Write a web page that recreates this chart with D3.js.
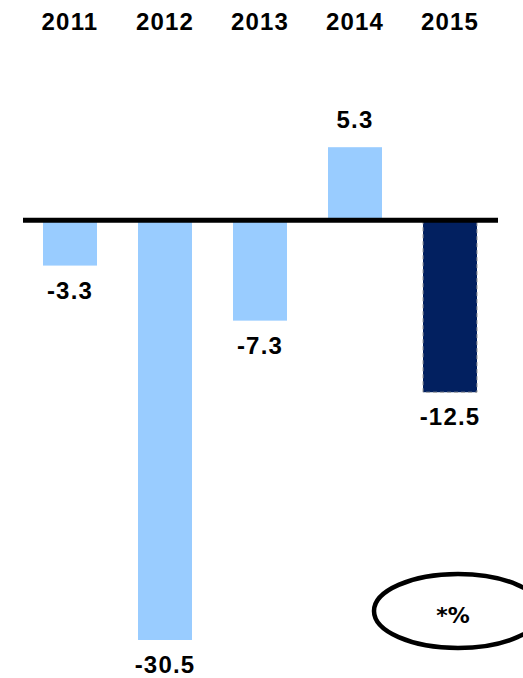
<!DOCTYPE html>
<html>
<head>
<meta charset="utf-8">
<script src="https://cdn.jsdelivr.net/npm/d3@7"></script>
<style>
  html, body { margin: 0; padding: 0; background: #fff; }
  svg { display: block; }
</style>
</head>
<body>
<div id="chart"></div>
<script>
const categories = ["2011", "2012", "2013", "2014", "2015"];
const values = [-3.3, -30.5, -7.3, 5.3, -12.5];
const valueLabels = ["-3.3", "-30.5", "-7.3", "5.3", "-12.5"];
const highlight = [false, false, false, false, true];
const noteText = "*%";

const W = 523, H = 678;
const svg = d3.select("#chart").append("svg").attr("width", W).attr("height", H);

const x = d3.scaleBand().domain(categories).range([23, 497]).paddingInner(0.4316).paddingOuter(0.2105);
// zero at ~221, ~13.75 px per unit
const y = d3.scaleLinear().domain([-30.5, 5.3]).range([640, 147.2]);

// bars
svg.selectAll("rect.bar").data(values).join("rect")
  .attr("class", "bar")
  .attr("x", (d, i) => x(categories[i]))
  .attr("width", x.bandwidth())
  .attr("y", d => d >= 0 ? y(d) : y(0))
  .attr("height", d => Math.abs(y(d) - y(0)))
  .attr("fill", (d, i) => highlight[i] ? "#022060" : "#99CCFF")
  .attr("stroke", (d, i) => highlight[i] ? "#9a9a9a" : "none")
  .attr("stroke-width", 1)
  .attr("stroke-dasharray", "4,3");

// baseline
svg.append("line")
  .attr("x1", 23).attr("x2", 498)
  .attr("y1", y(0)).attr("y2", y(0))
  .attr("stroke", "#000").attr("stroke-width", 5);

// category labels on top
svg.selectAll("text.cat").data(categories).join("text")
  .attr("class", "cat")
  .attr("x", d => x(d) + x.bandwidth() / 2)
  .attr("y", 30)
  .attr("text-anchor", "middle")
  .attr("font-family", "Liberation Sans, Arial, sans-serif")
  .attr("font-weight", "bold")
  .attr("font-size", 24)
  .attr("letter-spacing", 1.2)
  .text(d => d);

// value labels
svg.selectAll("text.val").data(values).join("text")
  .attr("class", "val")
  .attr("x", (d, i) => x(categories[i]) + x.bandwidth() / 2)
  .attr("y", d => d >= 0 ? y(d) - 19 : y(d) + 33)
  .attr("text-anchor", "middle")
  .attr("font-family", "Liberation Sans, Arial, sans-serif")
  .attr("font-weight", "bold")
  .attr("font-size", 24)
  .attr("letter-spacing", 1.2)
  .text((d, i) => valueLabels[i]);

// annotation ellipse
svg.append("ellipse")
  .attr("cx", 458).attr("cy", 611)
  .attr("rx", 84).attr("ry", 37)
  .attr("fill", "none")
  .attr("stroke", "#000").attr("stroke-width", 4.5);

svg.append("text")
  .attr("x", 453).attr("y", 623)
  .attr("text-anchor", "middle")
  .attr("font-family", "DejaVu Sans, Verdana, sans-serif")
  .attr("font-weight", "bold")
  .attr("font-size", 22)
  .text(noteText);
</script>
</body>
</html>
